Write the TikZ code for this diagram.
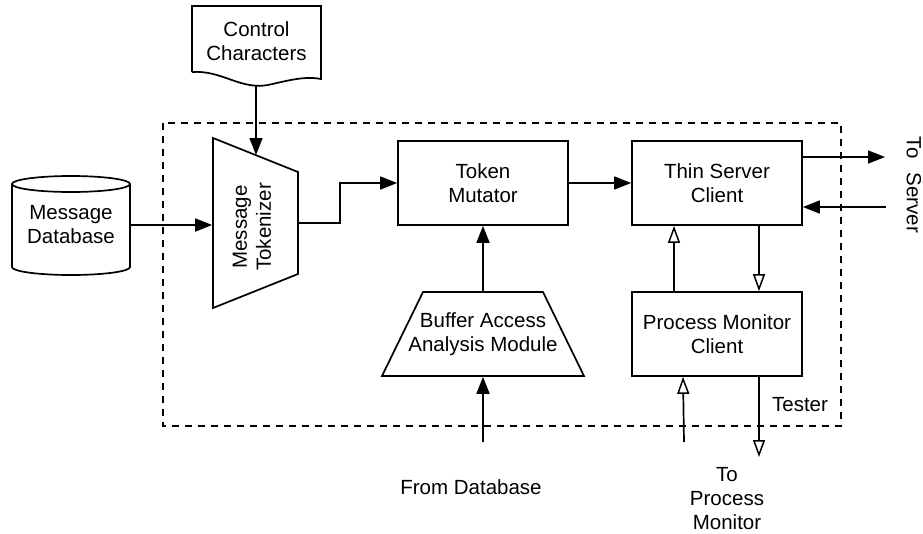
\documentclass[tikz,border=0pt]{standalone}
\usepackage{fontspec}
\setmainfont{Liberation Sans}
\usetikzlibrary{arrows.meta}
\begin{document}
\begin{tikzpicture}[x=1pt,y=1pt,
  line width=1.7pt,
  lbl/.style={align=center,inner sep=0pt,font=\fontsize{20.5}{24}\selectfont},
  boxnode/.style={lbl,draw,minimum width=170pt,minimum height=84pt},
  arr/.style={-{Triangle[length=17pt,width=13pt]}},
  oarr/.style={-{Triangle[open,length=17pt,width=12pt,line width=1.5pt]}},
  tester/.style={dash pattern=on 7pt off 6pt}]
\useasboundingbox (0,0) rectangle (923,-533);

% tester boundary
\draw[tester] (163,-123) rectangle (841,-426);
\node[lbl] (tester) at (800,-405) {Tester};

% control characters (document shape)
\draw (192,-72) -- (192,-6) -- (321,-6) -- (321,-79)
  .. controls (305,-76) and (290,-80) .. (268,-85)
  .. controls (240,-90) and (222,-70) .. (192,-72);
\node[lbl] (cc) at (256.5,-41) {Control\\Characters};
\coordinate (ccb) at (256,-86);

% message database (cylinder)
\draw (12,-184) -- (12,-267) arc[start angle=180,end angle=360,x radius=59,y radius=8] -- (130,-184);
\draw (71,-184) ellipse[x radius=59,y radius=8];
\node[lbl,minimum width=118pt] (db) at (71,-225) {Message\\Database};

% message tokenizer (slanted trapezoid); the rotated frame node gives
% its left side as .north and its right side as .south
\draw (213,-138) -- (298,-172) -- (298,-274) -- (213,-308) -- cycle;
\node[lbl,rotate=90,minimum width=170pt,minimum height=85pt] (tok) at (255.5,-223) {};
\node[lbl,rotate=90] (toktext) at (252,-227) {Message\\Tokenizer};
\coordinate (tokn) at (256,-155);

% main blocks
\node[boxnode] (tm) at (483,-183) {Token\\Mutator};
\node[boxnode] (ts) at (717,-183) {Thin Server\\Client};
\node[boxnode] (pmc) at (717,-334) {Process Monitor\\Client};

% buffer access analysis module (trapezoid)
\draw (423,-292) -- (543,-292) -- (584,-376) -- (382,-376) -- cycle;
\node[lbl,minimum height=84pt] (bam) at (483,-334) {Buffer Access\\Analysis Module};

% external labels
\node[lbl,rotate=-90] (srv) at (914,-185) {To\hspace{14pt}Server};
\node[lbl] (fromdb) at (471,-487) {From Database};
\node[lbl] (topm) at (727,-499) {To\\Process\\Monitor};

\coordinate (srvout) at (885,-157);
\coordinate (srvin) at (886,-207);
\coordinate (dbin) at (483,-442);
\coordinate (pmin) at (684,-442);
\coordinate (pmout) at (759,-457);

% connectors
\draw[arr] (ccb) -- (tokn);
\draw[arr] (db.east) -- (db.east -| tok.north);
\draw[arr] (tok.south) -- ++(41,0) |- (tm.west);
\draw[arr] (tm.east) -- (ts.west);
\draw[arr] (srvout -| ts.east) -- (srvout);
\draw[arr] (srvin) -- (srvin -| ts.east);
\draw[arr] (bam.north) -- (tm.south);
\draw[arr] (dbin) -- (bam.south);
\draw[oarr] ([xshift=-43pt]pmc.north) -- ([xshift=-43pt]ts.south);
\draw[oarr] ([xshift=42pt]ts.south) -- ([xshift=42pt]pmc.north);
\draw[oarr] (pmin) -- ([xshift=-34pt]pmc.south);
\draw[oarr] ([xshift=42pt]pmc.south) -- (pmout);
\end{tikzpicture}
\end{document}
